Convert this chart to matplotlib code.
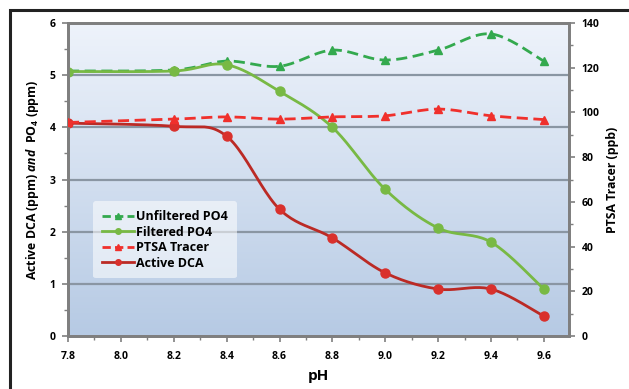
import numpy as np
import matplotlib
matplotlib.use("Agg")
import matplotlib.pyplot as plt
from matplotlib.patches import Rectangle
from matplotlib.ticker import MultipleLocator

plt.rcParams["font.family"] = ["Open Sans", "DejaVu Sans"]
plt.rcParams["font.weight"] = "bold"
plt.rcParams["mathtext.fontset"] = "custom"
plt.rcParams["mathtext.rm"] = "Open Sans:bold"
plt.rcParams["mathtext.it"] = "Open Sans:italic:bold"
plt.rcParams["mathtext.bf"] = "Open Sans:bold"

ph = [7.8, 8.2, 8.4, 8.6, 8.8, 9.0, 9.2, 9.4, 9.6]
unfiltered_po4 = [5.08, 5.10, 5.27, 5.17, 5.48, 5.29, 5.48, 5.79, 5.27]
filtered_po4 = [5.07, 5.08, 5.20, 4.69, 4.00, 2.81, 2.07, 1.80, 0.90]
ptsa_tracer = [95.5, 97.0, 98.0, 97.0, 98.0, 98.5, 101.5, 98.5, 96.8]
active_dca = [4.08, 4.02, 3.83, 2.43, 1.88, 1.21, 0.90, 0.90, 0.38]

x_ticks = [7.8, 8.0, 8.2, 8.4, 8.6, 8.8, 9.0, 9.2, 9.4, 9.6]


def smooth(xs, ys, steps=24):
    """Catmull-Rom style smoothing through every point, like Excel smoothed lines."""
    pts = np.column_stack([xs, ys]).astype(float)
    padded = np.vstack([pts[0], pts, pts[-1]])
    out = []
    t = np.linspace(0, 1, steps)[:, None]
    for i in range(1, len(padded) - 2):
        p0, p1, p2, p3 = padded[i - 1], padded[i], padded[i + 1], padded[i + 2]
        c1 = p1 + (p2 - p0) / 6
        c2 = p2 - (p3 - p1) / 6
        seg = ((1 - t) ** 3) * p1 + 3 * ((1 - t) ** 2) * t * c1 + 3 * (1 - t) * t ** 2 * c2 + t ** 3 * p2
        out.append(seg if i == 1 else seg[1:])
    out = np.vstack(out)
    return out[:, 0], out[:, 1]


fig = plt.figure(figsize=(6.29, 3.89), dpi=100)
fig.patches.append(Rectangle((10 / 629, -0.1), 1.2, (389 - 10) / 389 + 0.1,
                             transform=fig.transFigure, fill=False,
                             edgecolor="#222222", linewidth=2.2))

x_max = 9.695
ax = fig.add_axes([68 / 629, 1 - 336 / 389, (569 - 68) / 629, (336 - 23) / 389])

gradient = np.linspace(0, 1, 256)[:, None]
cmap = matplotlib.colors.LinearSegmentedColormap.from_list("bg", ["#eef3fb", "#b6cae4"])
ax.imshow(gradient, aspect="auto", cmap=cmap, extent=(7.8, x_max, 0, 6),
          origin="upper", zorder=0)
ax.set_xlim(7.8, x_max)
ax.set_ylim(0, 6)

for level in [1, 2, 3, 4, 5]:
    ax.axhline(level, color="#8a96a3", linewidth=1.6, zorder=1)

green_dash = "#33a94e"
green = "#78b944"
red_dash = "#f0302c"
red_line = "#bb2a25"
red_mark = "#d9302c"

sx, sy = smooth(ph, unfiltered_po4)
ax.plot(sx, sy, color=green_dash, linestyle=(0, (4, 2)), linewidth=2, zorder=3)
ax.plot(ph, unfiltered_po4, linestyle="none", marker="^", color=green_dash,
        markersize=6, zorder=3)

sx, sy = smooth(ph, filtered_po4)
ax.plot(sx, sy, color=green, linewidth=2, zorder=4)
ax.plot(ph, filtered_po4, linestyle="none", marker="o", color=green,
        markersize=6.5, zorder=4)

sx, sy = smooth(ph, active_dca)
ax.plot(sx, sy, color=red_line, linewidth=2, zorder=5)
ax.plot(ph, active_dca, linestyle="none", marker="o", color=red_mark,
        markersize=6.5, zorder=5)

ax2 = ax.twinx()
ax2.set_ylim(0, 140)
sx, sy = smooth(ph, ptsa_tracer)
ax2.plot(sx, sy, color=red_dash, linestyle=(0, (4, 2)), linewidth=2, zorder=3)
ax2.plot(ph, ptsa_tracer, linestyle="none", marker="^", color=red_dash,
         markersize=6, zorder=3)

for a in (ax, ax2):
    for side, spine in a.spines.items():
        spine.set_color("#7f7f7f")
        spine.set_linewidth(2)

ax.set_xticks(x_ticks)
ax.set_xticklabels([f"{v:.1f}" for v in x_ticks])
ax.xaxis.set_minor_locator(MultipleLocator(0.1))
ax.yaxis.set_major_locator(MultipleLocator(1))
ax.yaxis.set_minor_locator(MultipleLocator(0.5))
ax2.yaxis.set_major_locator(MultipleLocator(20))
ax2.yaxis.set_minor_locator(MultipleLocator(10))

ax.tick_params(axis="both", which="major", labelsize=7.5, length=4, width=1.2,
               color="#7f7f7f", pad=5)
ax.tick_params(axis="x", which="major", pad=7)
ax.tick_params(axis="both", which="minor", length=3, width=1, color="#7f7f7f")
ax2.tick_params(axis="y", which="major", labelsize=7.5, length=4, width=1.2,
                color="#7f7f7f", pad=5)
ax2.tick_params(axis="y", which="minor", length=3, width=1, color="#7f7f7f")

ax.set_xlabel("pH", fontsize=11, fontweight="bold", labelpad=5)
ax.set_ylabel("Active DCA (ppm) $\\it{and}$  PO$_4$ (ppm)", fontsize=8.8,
              fontweight="bold", labelpad=6)
ax2.set_ylabel("PTSA Tracer (ppb)", fontsize=8.8, fontweight="bold", labelpad=5)

handles = [
    plt.Line2D([], [], color=green_dash, linestyle=(0, (3, 1.5)), marker="^", markersize=4, linewidth=2),
    plt.Line2D([], [], color=green, marker="o", markersize=4, linewidth=2),
    plt.Line2D([], [], color=red_dash, linestyle=(0, (3, 1.5)), marker="^", markersize=4, linewidth=2),
    plt.Line2D([], [], color=red_line, marker="o", markersize=4, markerfacecolor=red_mark,
               markeredgecolor=red_mark, linewidth=2),
]
labels = ["Unfiltered PO4", "Filtered PO4", "PTSA Tracer", "Active DCA"]
leg = ax.legend(handles, labels, loc="upper left", bbox_to_anchor=(0.05, 0.43),
                fontsize=9, frameon=True, handlelength=2.6, handletextpad=0.15,
                labelspacing=0.2, borderpad=0.7, borderaxespad=0)
leg.get_frame().set_facecolor("white")
leg.get_frame().set_alpha(0.55)
leg.get_frame().set_edgecolor("none")
leg.set_zorder(10)

fig.savefig("out.png", dpi=100)
